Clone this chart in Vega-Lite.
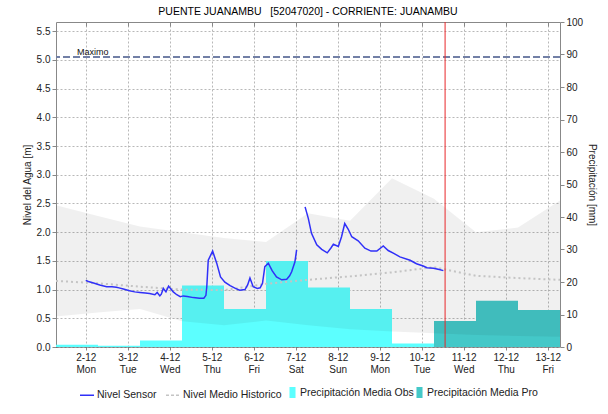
{
  "$schema": "https://vega.github.io/schema/vega-lite/v6.json",
  "width": 504,
  "height": 325,
  "autosize": {"type": "none"},
  "padding": {"left": 56, "top": 22, "right": 48, "bottom": 67},
  "background": "white",
  "title": {"text": "PUENTE JUANAMBU \u00a0 [52047020] - CORRIENTE: JUANAMBU", "font": "Liberation Sans", "fontSize": 10.5, "fontWeight": "normal", "color": "#000000", "offset": 0, "anchor": "middle"},
  "config": {
    "view": {"stroke": null},
    "axis": {"labelFont": "Liberation Sans", "titleFont": "Liberation Sans", "labelFontSize": 10, "titleFontSize": 10, "titleFontWeight": "normal", "labelColor": "#222222", "titleColor": "#222222", "domainColor": "#888888", "tickColor": "#888888", "gridColor": "#b8b8b8", "gridDash": [2, 2], "labelOverlap": false, "labelFlush": false},
    "legend": {"labelFont": "Liberation Sans", "labelFontSize": 10.5, "labelColor": "#222222", "padding": 0}
  },
  "datasets": {
    "precip": [
      {"ini": "2024-12-01T07:00:00", "fin": "2024-12-02T07:00:00", "mm": 0.7, "tipo": "Precipitación Media Obs"},
      {"ini": "2024-12-02T07:00:00", "fin": "2024-12-03T07:00:00", "mm": 0.4, "tipo": "Precipitación Media Obs"},
      {"ini": "2024-12-03T07:00:00", "fin": "2024-12-04T07:00:00", "mm": 2.0, "tipo": "Precipitación Media Obs"},
      {"ini": "2024-12-04T07:00:00", "fin": "2024-12-05T07:00:00", "mm": 18.9, "tipo": "Precipitación Media Obs"},
      {"ini": "2024-12-05T07:00:00", "fin": "2024-12-06T07:00:00", "mm": 11.7, "tipo": "Precipitación Media Obs"},
      {"ini": "2024-12-06T07:00:00", "fin": "2024-12-07T07:00:00", "mm": 26.5, "tipo": "Precipitación Media Obs"},
      {"ini": "2024-12-07T07:00:00", "fin": "2024-12-08T07:00:00", "mm": 18.3, "tipo": "Precipitación Media Obs"},
      {"ini": "2024-12-08T07:00:00", "fin": "2024-12-09T07:00:00", "mm": 11.7, "tipo": "Precipitación Media Obs"},
      {"ini": "2024-12-09T07:00:00", "fin": "2024-12-10T07:00:00", "mm": 1.1, "tipo": "Precipitación Media Obs"},
      {"ini": "2024-12-10T07:00:00", "fin": "2024-12-11T07:00:00", "mm": 8.0, "tipo": "Precipitación Media Pro"},
      {"ini": "2024-12-11T07:00:00", "fin": "2024-12-12T07:00:00", "mm": 14.2, "tipo": "Precipitación Media Pro"},
      {"ini": "2024-12-12T07:00:00", "fin": "2024-12-13T07:00:00", "mm": 11.4, "tipo": "Precipitación Media Pro"}
    ],
    "banda": [
      {"t": "2024-12-01T07:00:00", "lo": 0.53, "hi": 2.47},
      {"t": "2024-12-02T07:00:00", "lo": 0.60, "hi": 2.28},
      {"t": "2024-12-03T07:00:00", "lo": 0.66, "hi": 2.10},
      {"t": "2024-12-04T07:00:00", "lo": 0.45, "hi": 2.00},
      {"t": "2024-12-05T07:00:00", "lo": 0.38, "hi": 1.90},
      {"t": "2024-12-06T07:00:00", "lo": 0.46, "hi": 1.83},
      {"t": "2024-12-07T07:00:00", "lo": 0.38, "hi": 2.33},
      {"t": "2024-12-08T07:00:00", "lo": 0.31, "hi": 2.20},
      {"t": "2024-12-09T07:00:00", "lo": 0.27, "hi": 2.94},
      {"t": "2024-12-10T07:00:00", "lo": 0.24, "hi": 2.58},
      {"t": "2024-12-11T07:00:00", "lo": 0.21, "hi": 2.00},
      {"t": "2024-12-12T07:00:00", "lo": 0.19, "hi": 2.08},
      {"t": "2024-12-13T07:00:00", "lo": 0.18, "hi": 2.55}
    ],
    "historico": [
      {"t": "2024-12-01T07:00:00", "m": 1.15},
      {"t": "2024-12-02T07:00:00", "m": 1.11},
      {"t": "2024-12-03T07:00:00", "m": 1.05},
      {"t": "2024-12-04T07:00:00", "m": 1.00},
      {"t": "2024-12-05T07:00:00", "m": 0.99},
      {"t": "2024-12-06T07:00:00", "m": 1.10},
      {"t": "2024-12-07T07:00:00", "m": 1.17},
      {"t": "2024-12-08T07:00:00", "m": 1.23},
      {"t": "2024-12-09T07:00:00", "m": 1.30},
      {"t": "2024-12-10T07:00:00", "m": 1.39},
      {"t": "2024-12-11T07:00:00", "m": 1.24},
      {"t": "2024-12-12T07:00:00", "m": 1.20},
      {"t": "2024-12-13T07:00:00", "m": 1.17}
    ],
    "sensor": [
      {"t": "2024-12-02T00:00:00", "m": 1.16, "seg": 1},
      {"t": "2024-12-02T01:30:00", "m": 1.14, "seg": 1},
      {"t": "2024-12-02T04:00:00", "m": 1.12, "seg": 1},
      {"t": "2024-12-02T08:00:00", "m": 1.08, "seg": 1},
      {"t": "2024-12-02T12:00:00", "m": 1.05, "seg": 1},
      {"t": "2024-12-02T15:00:00", "m": 1.05, "seg": 1},
      {"t": "2024-12-02T17:30:00", "m": 1.04, "seg": 1},
      {"t": "2024-12-02T19:00:00", "m": 1.03, "seg": 1},
      {"t": "2024-12-02T21:30:00", "m": 1.01, "seg": 1},
      {"t": "2024-12-03T01:00:00", "m": 0.98, "seg": 1},
      {"t": "2024-12-03T04:00:00", "m": 0.96, "seg": 1},
      {"t": "2024-12-03T07:00:00", "m": 0.95, "seg": 1},
      {"t": "2024-12-03T10:00:00", "m": 0.94, "seg": 1},
      {"t": "2024-12-03T12:30:00", "m": 0.93, "seg": 1},
      {"t": "2024-12-03T15:30:00", "m": 0.91, "seg": 1},
      {"t": "2024-12-03T16:50:00", "m": 0.95, "seg": 1},
      {"t": "2024-12-03T18:20:00", "m": 0.89, "seg": 1},
      {"t": "2024-12-03T19:10:00", "m": 0.92, "seg": 1},
      {"t": "2024-12-03T20:20:00", "m": 1.02, "seg": 1},
      {"t": "2024-12-03T21:50:00", "m": 0.96, "seg": 1},
      {"t": "2024-12-03T23:20:00", "m": 1.06, "seg": 1},
      {"t": "2024-12-04T02:00:00", "m": 0.96, "seg": 1},
      {"t": "2024-12-04T04:00:00", "m": 0.91, "seg": 1},
      {"t": "2024-12-04T06:00:00", "m": 0.875, "seg": 1},
      {"t": "2024-12-04T07:45:00", "m": 0.89, "seg": 1},
      {"t": "2024-12-04T10:00:00", "m": 0.88, "seg": 1},
      {"t": "2024-12-04T13:30:00", "m": 0.86, "seg": 1},
      {"t": "2024-12-04T17:00:00", "m": 0.85, "seg": 1},
      {"t": "2024-12-04T19:30:00", "m": 0.85, "seg": 1},
      {"t": "2024-12-04T20:40:00", "m": 0.90, "seg": 1},
      {"t": "2024-12-04T21:10:00", "m": 1.05, "seg": 1},
      {"t": "2024-12-04T22:00:00", "m": 1.51, "seg": 1},
      {"t": "2024-12-05T00:30:00", "m": 1.67, "seg": 1},
      {"t": "2024-12-05T02:50:00", "m": 1.46, "seg": 1},
      {"t": "2024-12-05T05:00:00", "m": 1.22, "seg": 1},
      {"t": "2024-12-05T07:30:00", "m": 1.13, "seg": 1},
      {"t": "2024-12-05T10:30:00", "m": 1.07, "seg": 1},
      {"t": "2024-12-05T13:30:00", "m": 1.02, "seg": 1},
      {"t": "2024-12-05T16:00:00", "m": 0.99, "seg": 1},
      {"t": "2024-12-05T19:00:00", "m": 1.00, "seg": 1},
      {"t": "2024-12-05T20:30:00", "m": 1.08, "seg": 1},
      {"t": "2024-12-05T21:50:00", "m": 1.20, "seg": 1},
      {"t": "2024-12-05T23:40:00", "m": 1.05, "seg": 1},
      {"t": "2024-12-06T02:00:00", "m": 1.02, "seg": 1},
      {"t": "2024-12-06T03:40:00", "m": 1.03, "seg": 1},
      {"t": "2024-12-06T05:00:00", "m": 1.11, "seg": 1},
      {"t": "2024-12-06T06:20:00", "m": 1.40, "seg": 1},
      {"t": "2024-12-06T08:20:00", "m": 1.46, "seg": 1},
      {"t": "2024-12-06T10:30:00", "m": 1.33, "seg": 1},
      {"t": "2024-12-06T13:00:00", "m": 1.22, "seg": 1},
      {"t": "2024-12-06T16:00:00", "m": 1.17, "seg": 1},
      {"t": "2024-12-06T18:50:00", "m": 1.18, "seg": 1},
      {"t": "2024-12-06T20:30:00", "m": 1.24, "seg": 1},
      {"t": "2024-12-06T21:40:00", "m": 1.31, "seg": 1},
      {"t": "2024-12-06T23:30:00", "m": 1.48, "seg": 1},
      {"t": "2024-12-07T00:30:00", "m": 1.69, "seg": 1},
      {"t": "2024-12-07T05:20:00", "m": 2.44, "seg": 2},
      {"t": "2024-12-07T07:10:00", "m": 2.24, "seg": 2},
      {"t": "2024-12-07T09:00:00", "m": 1.98, "seg": 2},
      {"t": "2024-12-07T12:00:00", "m": 1.78, "seg": 2},
      {"t": "2024-12-07T14:50:00", "m": 1.70, "seg": 2},
      {"t": "2024-12-07T18:00:00", "m": 1.64, "seg": 2},
      {"t": "2024-12-07T20:00:00", "m": 1.72, "seg": 2},
      {"t": "2024-12-07T21:30:00", "m": 1.79, "seg": 2},
      {"t": "2024-12-08T00:20:00", "m": 1.75, "seg": 2},
      {"t": "2024-12-08T02:10:00", "m": 1.92, "seg": 2},
      {"t": "2024-12-08T04:00:00", "m": 2.15, "seg": 2},
      {"t": "2024-12-08T06:00:00", "m": 2.05, "seg": 2},
      {"t": "2024-12-08T08:00:00", "m": 1.92, "seg": 2},
      {"t": "2024-12-08T11:40:00", "m": 1.85, "seg": 2},
      {"t": "2024-12-08T15:30:00", "m": 1.72, "seg": 2},
      {"t": "2024-12-08T19:00:00", "m": 1.67, "seg": 2},
      {"t": "2024-12-08T22:20:00", "m": 1.67, "seg": 2},
      {"t": "2024-12-09T02:00:00", "m": 1.76, "seg": 2},
      {"t": "2024-12-09T04:50:00", "m": 1.68, "seg": 2},
      {"t": "2024-12-09T08:00:00", "m": 1.63, "seg": 2},
      {"t": "2024-12-09T11:30:00", "m": 1.57, "seg": 2},
      {"t": "2024-12-09T17:20:00", "m": 1.51, "seg": 2},
      {"t": "2024-12-09T21:00:00", "m": 1.45, "seg": 2},
      {"t": "2024-12-10T00:50:00", "m": 1.41, "seg": 2},
      {"t": "2024-12-10T03:00:00", "m": 1.38, "seg": 2},
      {"t": "2024-12-10T06:40:00", "m": 1.37, "seg": 2},
      {"t": "2024-12-10T10:00:00", "m": 1.35, "seg": 2},
      {"t": "2024-12-10T12:20:00", "m": 1.33, "seg": 2}
    ],
    "maximo": [
      {"t": "2024-12-01T19:00:00", "m": 5.05, "label": "Maximo"}
    ],
    "corte": [
      {"t": "2024-12-10T13:20:00"}
    ]
  },
  "layer": [
    {
      "data": {"name": "precip"},
      "mark": {"type": "bar"},
      "encoding": {
        "x": {"field": "ini", "type": "temporal", "title": null,
          "scale": {"domain": [{"year": 2024, "month": 12, "date": 1, "hours": 7}, {"year": 2024, "month": 12, "date": 13, "hours": 7}]},
          "axis": {"orient": "top", "labels": false, "title": null, "grid": true, "tickCount": {"interval": "day", "step": 1}, "tickSize": -4, "zindex": 0}},
        "x2": {"field": "fin"},
        "y": {"field": "mm", "type": "quantitative", "title": "Precipitación [mm]",
          "scale": {"domain": [0, 100], "nice": false},
          "axis": {"orient": "right", "values": [0, 10, 20, 30, 40, 50, 60, 70, 80, 90, 100], "grid": false, "tickSize": 4, "labelPadding": 2, "titlePadding": 4}},
        "y2": {"datum": 0},
        "fill": {"field": "tipo", "type": "nominal",
          "scale": {"domain": ["Precipitación Media Obs", "Precipitación Media Pro"], "range": ["#5cffff", "#44c8c8"]},
          "legend": {"orient": "none", "legendX": 231, "legendY": 365, "direction": "horizontal", "title": null, "symbolType": "M-0.55,-1H0.55V1H-0.55Z", "symbolSize": 121, "symbolStrokeWidth": 0, "symbolOpacity": 1, "labelOffset": 2, "columnPadding": 0}}
      }
    },
    {
      "layer": [
        {
          "data": {"name": "banda"},
          "mark": {"type": "area", "fill": "#000000", "fillOpacity": 0.06},
          "encoding": {
            "x": {"field": "t", "type": "temporal", "title": null,
              "scale": {"domain": [{"year": 2024, "month": 12, "date": 1, "hours": 7}, {"year": 2024, "month": 12, "date": 13, "hours": 7}]},
              "axis": {"orient": "bottom", "title": null, "grid": false, "tickCount": {"interval": "day", "step": 1}, "labelExpr": "[timeFormat(datum.value, '%-d-%m'), timeFormat(datum.value, '%a')]", "labelLineHeight": 12, "labelPadding": 2, "tickSize": 3, "domainDash": [1, 1], "domainColor": "#444444", "zindex": 1}},
            "y": {"field": "lo", "type": "quantitative", "title": "Nivel del Agua [m]",
              "scale": {"domain": [0, 5.66], "nice": false},
              "axis": {"orient": "left", "values": [0, 0.5, 1, 1.5, 2, 2.5, 3, 3.5, 4, 4.5, 5, 5.5], "format": ".1f", "grid": true, "tickSize": 4, "labelPadding": 2, "titlePadding": 4, "zindex": 0}},
            "y2": {"field": "hi"}
          }
        },
        {
          "data": {"name": "historico"},
          "mark": {"type": "line", "strokeWidth": 2, "strokeDash": [2, 3]},
          "encoding": {
            "x": {"field": "t", "type": "temporal", "title": null,
              "axis": {"orient": "bottom", "title": null, "grid": false, "tickCount": {"interval": "day", "step": 1}, "labelExpr": "[timeFormat(datum.value, '%-d-%m'), timeFormat(datum.value, '%a')]", "labelLineHeight": 12, "labelPadding": 2, "tickSize": 3, "domainDash": [1, 1], "domainColor": "#444444", "zindex": 1}},
            "y": {"field": "m", "type": "quantitative", "title": "Nivel del Agua [m]",
              "axis": {"orient": "left", "values": [0, 0.5, 1, 1.5, 2, 2.5, 3, 3.5, 4, 4.5, 5, 5.5], "format": ".1f", "grid": true, "tickSize": 4, "labelPadding": 2, "titlePadding": 4, "zindex": 0}},
            "stroke": {"datum": "Nivel Medio Historico",
              "scale": {"domain": ["Nivel Sensor", "Nivel Medio Historico"], "range": ["#3030f8", "#c4c4c4"]},
              "legend": {"orient": "none", "legendX": 23, "legendY": 365, "direction": "horizontal", "title": null, "symbolType": "stroke", "symbolSize": 196, "symbolStrokeWidth": 1.5, "labelOffset": 2, "columnPadding": 6,
                "encode": {"symbols": {"update": {"strokeDash": {"signal": "datum.value === 'Nivel Medio Historico' ? [3, 2] : [1, 0]"}}}}}}
          }
        },
        {
          "data": {"name": "sensor"},
          "mark": {"type": "line", "strokeWidth": 1.5},
          "encoding": {
            "x": {"field": "t", "type": "temporal", "title": null,
              "axis": {"orient": "bottom", "title": null, "grid": false, "tickCount": {"interval": "day", "step": 1}, "labelExpr": "[timeFormat(datum.value, '%-d-%m'), timeFormat(datum.value, '%a')]", "labelLineHeight": 12, "labelPadding": 2, "tickSize": 3, "domainDash": [1, 1], "domainColor": "#444444", "zindex": 1}},
            "y": {"field": "m", "type": "quantitative", "title": "Nivel del Agua [m]",
              "axis": {"orient": "left", "values": [0, 0.5, 1, 1.5, 2, 2.5, 3, 3.5, 4, 4.5, 5, 5.5], "format": ".1f", "grid": true, "tickSize": 4, "labelPadding": 2, "titlePadding": 4, "zindex": 0}},
            "detail": {"field": "seg", "type": "nominal"},
            "stroke": {"datum": "Nivel Sensor"}
          }
        },
        {
          "data": {"name": "maximo"},
          "mark": {"type": "rule", "stroke": "#7280a6", "strokeWidth": 2, "strokeDash": [7, 3]},
          "encoding": {
            "y": {"field": "m", "type": "quantitative", "title": "Nivel del Agua [m]",
              "axis": {"orient": "left", "values": [0, 0.5, 1, 1.5, 2, 2.5, 3, 3.5, 4, 4.5, 5, 5.5], "format": ".1f", "grid": true, "tickSize": 4, "labelPadding": 2, "titlePadding": 4, "zindex": 0}}
          }
        },
        {
          "data": {"name": "maximo"},
          "mark": {"type": "text", "align": "left", "baseline": "alphabetic", "dy": -2, "font": "Liberation Sans", "fontSize": 9, "color": "#111111"},
          "encoding": {
            "x": {"field": "t", "type": "temporal", "title": null,
              "axis": {"orient": "bottom", "title": null, "grid": false, "tickCount": {"interval": "day", "step": 1}, "labelExpr": "[timeFormat(datum.value, '%-d-%m'), timeFormat(datum.value, '%a')]", "labelLineHeight": 12, "labelPadding": 2, "tickSize": 3, "domainDash": [1, 1], "domainColor": "#444444", "zindex": 1}},
            "y": {"field": "m", "type": "quantitative", "title": "Nivel del Agua [m]",
              "axis": {"orient": "left", "values": [0, 0.5, 1, 1.5, 2, 2.5, 3, 3.5, 4, 4.5, 5, 5.5], "format": ".1f", "grid": true, "tickSize": 4, "labelPadding": 2, "titlePadding": 4, "zindex": 0}},
            "text": {"field": "label"}
          }
        },
        {
          "data": {"name": "corte"},
          "mark": {"type": "rule", "stroke": "#e8262a", "strokeWidth": 1},
          "encoding": {
            "x": {"field": "t", "type": "temporal", "title": null,
              "axis": {"orient": "bottom", "title": null, "grid": false, "tickCount": {"interval": "day", "step": 1}, "labelExpr": "[timeFormat(datum.value, '%-d-%m'), timeFormat(datum.value, '%a')]", "labelLineHeight": 12, "labelPadding": 2, "tickSize": 3, "domainDash": [1, 1], "domainColor": "#444444", "zindex": 1}}
          }
        }
      ]
    }
  ],
  "resolve": {"scale": {"x": "independent", "y": "independent"}}
}
